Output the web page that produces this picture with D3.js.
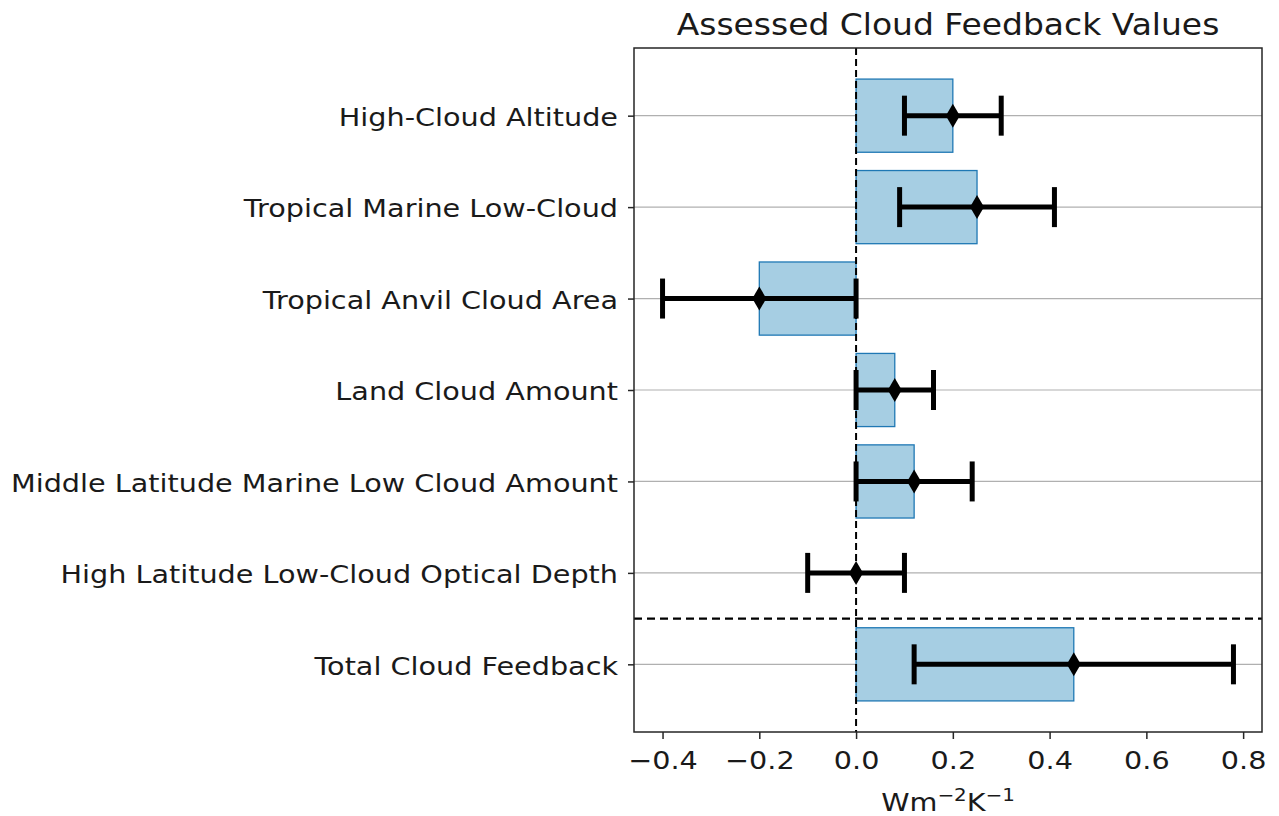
<!DOCTYPE html>
<html><head><meta charset="utf-8">
<script src="https://cdn.jsdelivr.net/npm/d3@7"></script>
<style>body{margin:0;background:#fff;} svg{display:block;} text{font-family:"DejaVu Sans",sans-serif;fill:#1a1a1a;}</style>
</head><body><svg id="c" width="1279" height="816"></svg>
<script>
const categories = ["High-Cloud Altitude","Tropical Marine Low-Cloud","Tropical Anvil Cloud Area","Land Cloud Amount","Middle Latitude Marine Low Cloud Amount","High Latitude Low-Cloud Optical Depth","Total Cloud Feedback"];
const values = [0.2, 0.25, -0.2, 0.08, 0.12, 0.0, 0.45];
const lowErr = [0.1, 0.09, -0.4, 0.0, 0.0, -0.1, 0.12];
const highErr = [0.3, 0.41, 0.0, 0.16, 0.24, 0.1, 0.78];
const xTicks = [-0.4, -0.2, 0.0, 0.2, 0.4, 0.6, 0.8];
const title = "Assessed Cloud Feedback Values";

const svg = d3.select("#c");
const L = 634, R = 1262, T = 48, B = 732;
const x = d3.scaleLinear().domain([-0.459, 0.839]).range([L, R]);
const y = d3.scaleLinear().domain([-0.74, 6.74]).range([T, B]);
const barH = 0.8;

function stretch(sel, k){
  sel.each(function(){
    const w = this.getComputedTextLength();
    d3.select(this).attr("textLength", w*k).attr("lengthAdjust","spacingAndGlyphs");
  });
}

// grid
svg.append("g").selectAll("line").data(categories).join("line")
  .attr("x1", L).attr("x2", R).attr("y1", (d,i)=>y(i)).attr("y2",(d,i)=>y(i))
  .attr("stroke","#b0b0b0").attr("stroke-width",1.2);

// bars
svg.append("g").selectAll("rect").data(values).join("rect")
  .attr("x", d=>x(Math.min(0,d))).attr("width", d=>Math.abs(x(d)-x(0)))
  .attr("y", (d,i)=>y(i-barH/2)).attr("height", (d,i)=>y(i+barH/2)-y(i-barH/2))
  .attr("fill","#a6cee3").attr("stroke","#1f78b4").attr("stroke-width",1.3);

// zero line
svg.append("line").attr("x1",x(0)).attr("x2",x(0)).attr("y1",T).attr("y2",B)
  .attr("stroke","#000").attr("stroke-width",2).attr("stroke-dasharray","7,4");
// separator
svg.append("line").attr("x1",L).attr("x2",R).attr("y1",y(5.5)).attr("y2",y(5.5))
  .attr("stroke","#000").attr("stroke-width",2.2).attr("stroke-dasharray","8,5");

// error bars
const eb = svg.append("g");
categories.forEach((c,i)=>{
  eb.append("line").attr("x1",x(lowErr[i])).attr("x2",x(highErr[i])).attr("y1",y(i)).attr("y2",y(i))
    .attr("stroke","#000").attr("stroke-width",5);
  [lowErr[i],highErr[i]].forEach(v=>{
    eb.append("line").attr("x1",x(v)).attr("x2",x(v)).attr("y1",y(i)-20).attr("y2",y(i)+20)
      .attr("stroke","#000").attr("stroke-width",5);
  });
  const cx = x(values[i]), cy = y(i);
  eb.append("path").attr("d",`M${cx},${cy-12}L${cx+7},${cy}L${cx},${cy+12}L${cx-7},${cy}Z`).attr("fill","#000");
});

// frame
svg.append("rect").attr("x",L).attr("y",T).attr("width",R-L).attr("height",B-T)
  .attr("fill","none").attr("stroke","#262626").attr("stroke-width",1.5);

// axes
const xAxis = d3.axisBottom(x).tickValues(xTicks).tickSize(7).tickPadding(13)
  .tickFormat(d=>d3.format(".1f")(d).replace("-","\u2212"));
const gx = svg.append("g").attr("transform",`translate(0,${B})`).call(xAxis);
gx.select(".domain").remove();
gx.selectAll(".tick line").attr("stroke","#262626").attr("stroke-width",1.5);
gx.selectAll(".tick text").style("font-size","24.5px").attr("fill","#1a1a1a").call(stretch, 1.17);

const yAxis = d3.axisLeft(y).tickValues(d3.range(categories.length)).tickSize(6).tickPadding(10)
  .tickFormat(i=>categories[i]);
const gy = svg.append("g").attr("transform",`translate(${L},0)`).call(yAxis);
gy.select(".domain").remove();
gy.selectAll(".tick line").attr("stroke","#262626").attr("stroke-width",1.5);
gy.selectAll(".tick text").style("font-size","24.5px").attr("fill","#1a1a1a").attr("dy","0.4em").call(stretch, 1.17);

svg.append("text").attr("x",(L+R)/2).attr("y",35).attr("text-anchor","middle")
  .style("font-size","30.5px").text(title).call(stretch, 1.08);

const cx0 = (L+R)/2;
const xl = svg.append("text").attr("x",cx0).attr("y",811).attr("text-anchor","middle").style("font-size","24.5px")
  .attr("transform",`translate(${cx0},0) scale(1.17,1) translate(${-cx0},0)`);
xl.append("tspan").text("Wm");
xl.append("tspan").attr("dy",-10).style("font-size","17px").text("\u22122");
xl.append("tspan").attr("dy",10).text("K");
xl.append("tspan").attr("dy",-10).style("font-size","17px").text("\u22121");
</script></body></html>
